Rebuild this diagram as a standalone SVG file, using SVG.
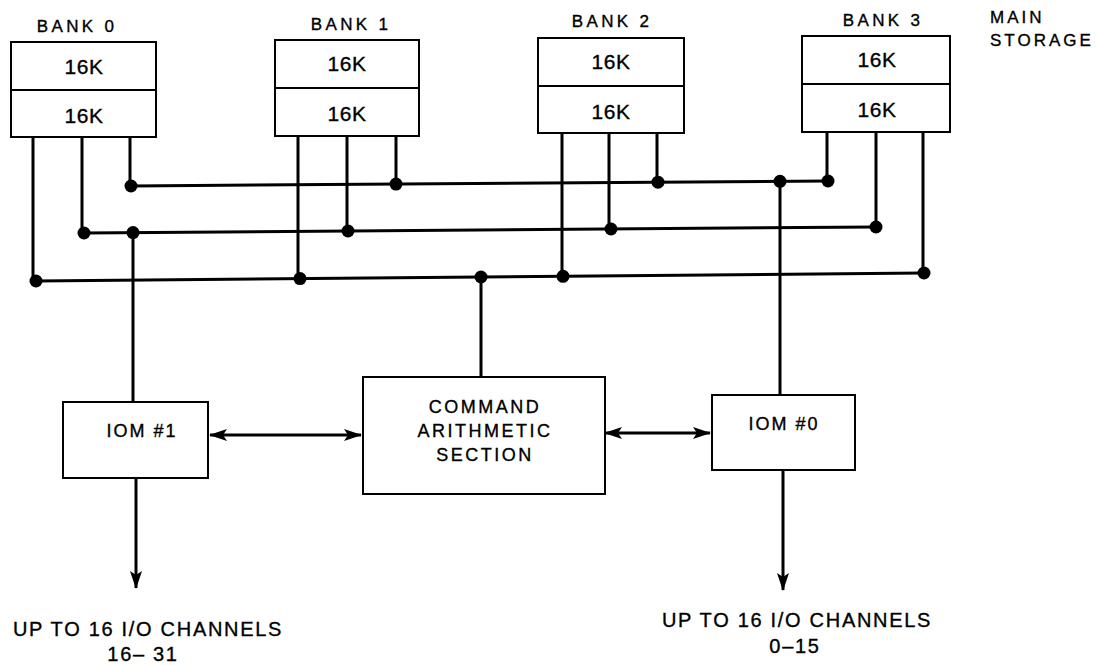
<svg xmlns="http://www.w3.org/2000/svg" width="1101" height="665" viewBox="0 0 1101 665">
<defs>
<style>
.box{fill:#fff;stroke:#000;stroke-width:2}
.ln{fill:none;stroke:#000;stroke-width:3}
.dot{fill:#000}
.t{font-family:"Liberation Sans",Arial,sans-serif;fill:#000;stroke:#000;stroke-width:0.35;text-anchor:middle}
.bank{font-size:17px;letter-spacing:3.3px}
.k{font-size:21px;letter-spacing:0.5px}
.lbl{font-size:18px;letter-spacing:2.5px}
.iom{font-size:18px;letter-spacing:2px}
.bot{font-size:20px;letter-spacing:1.7px}
</style>
<marker id="ah" viewBox="0 0 18 12" refX="17" refY="6" markerWidth="18" markerHeight="12" markerUnits="userSpaceOnUse" orient="auto-start-reverse">
<path d="M0,0 L18,6 L0,12 L4,6 Z" fill="#000"/>
</marker>
</defs>
<rect width="1101" height="665" fill="#fff"/>

<g id="connectors">
<path class="ln" d="M33,137 V281 M82,137 V232.7 M130,137 V186"/>
<path class="ln" d="M298,136 V278.6 M347,136 V231 M396,136 V184.1"/>
<path class="ln" d="M562,133 V276.3 M609,133 V229 M657,133 V182.2"/>
<path class="ln" d="M827,132 V181 M876,132 V227 M923,132 V273"/>
<path class="ln" d="M131,186 L828,181"/>
<path class="ln" d="M84,233 L876,227"/>
<path class="ln" d="M36,281 L924,273"/>
<path class="ln" d="M133,232.6 V402"/>
<path class="ln" d="M481,277 V377"/>
<path class="ln" d="M780,181.3 V395"/>
<path class="ln" d="M210,435 H361" marker-start="url(#ah)" marker-end="url(#ah)"/>
<path class="ln" d="M605,433 H710" marker-start="url(#ah)" marker-end="url(#ah)"/>
<path class="ln" d="M136,478 V588" marker-end="url(#ah)"/>
<path class="ln" d="M783,470 V590" marker-end="url(#ah)"/>
<g class="dot">
<circle cx="36" cy="281" r="6.5"/><circle cx="84" cy="233" r="6.5"/><circle cx="131" cy="186" r="6.5"/>
<circle cx="133" cy="232.6" r="6.5"/>
<circle cx="300" cy="278.6" r="6.5"/><circle cx="348" cy="231" r="6.5"/><circle cx="396" cy="184.1" r="6.5"/>
<circle cx="481" cy="277" r="6.5"/>
<circle cx="563" cy="276.3" r="6.5"/><circle cx="611" cy="229" r="6.5"/><circle cx="658" cy="182.2" r="6.5"/>
<circle cx="780" cy="181.3" r="6.5"/>
<circle cx="828" cy="181" r="6.5"/><circle cx="876" cy="227" r="6.5"/><circle cx="924" cy="273" r="6.5"/>
</g>
</g>

<g id="bank0">
<text class="t bank" x="77" y="32">BANK 0</text>
<rect class="box" x="11" y="42" width="145" height="95"/>
<line x1="11" y1="90" x2="156" y2="90" stroke="#000" stroke-width="2"/>
<text class="t k" x="84" y="74">16K</text>
<text class="t k" x="84" y="123">16K</text>
</g>
<g id="bank1">
<text class="t bank" x="351" y="30">BANK 1</text>
<rect class="box" x="275" y="40" width="144" height="96"/>
<line x1="275" y1="88" x2="419" y2="88" stroke="#000" stroke-width="2"/>
<text class="t k" x="347" y="71">16K</text>
<text class="t k" x="347" y="121">16K</text>
</g>
<g id="bank2">
<text class="t bank" x="612" y="27">BANK 2</text>
<rect class="box" x="538" y="38" width="146" height="95"/>
<line x1="538" y1="86" x2="684" y2="86" stroke="#000" stroke-width="2"/>
<text class="t k" x="611" y="69">16K</text>
<text class="t k" x="611" y="119">16K</text>
</g>
<g id="bank3">
<text class="t bank" x="883" y="26">BANK 3</text>
<rect class="box" x="802" y="36" width="148" height="96"/>
<line x1="802" y1="84" x2="950" y2="84" stroke="#000" stroke-width="2"/>
<text class="t k" x="877" y="67">16K</text>
<text class="t k" x="877" y="117">16K</text>
</g>
<g id="main-storage">
<text class="t bank" x="990" y="23" style="text-anchor:start;letter-spacing:3px">MAIN</text>
<text class="t bank" x="990" y="46" style="text-anchor:start;letter-spacing:3px">STORAGE</text>
</g>
<g id="iom1">
<rect class="box" x="63" y="402" width="145" height="76"/>
<text class="t iom" x="142" y="437">IOM #1</text>
</g>
<g id="cas">
<rect class="box" x="363" y="377" width="242" height="117"/>
<text class="t lbl" x="485" y="413">COMMAND</text>
<text class="t lbl" x="485" y="437">ARITHMETIC</text>
<text class="t lbl" x="485" y="461">SECTION</text>
</g>
<g id="iom0">
<rect class="box" x="712" y="395" width="143" height="75"/>
<text class="t iom" x="784" y="430">IOM #0</text>
</g>
<g id="out1">
<text class="t bot" x="148" y="636">UP TO 16 I/O CHANNELS</text>
<text class="t bot" x="143" y="661">16– 31</text>
</g>
<g id="out0">
<text class="t bot" x="797" y="627">UP TO 16 I/O CHANNELS</text>
<text class="t bot" x="795" y="653">0–15</text>
</g>
</svg>
